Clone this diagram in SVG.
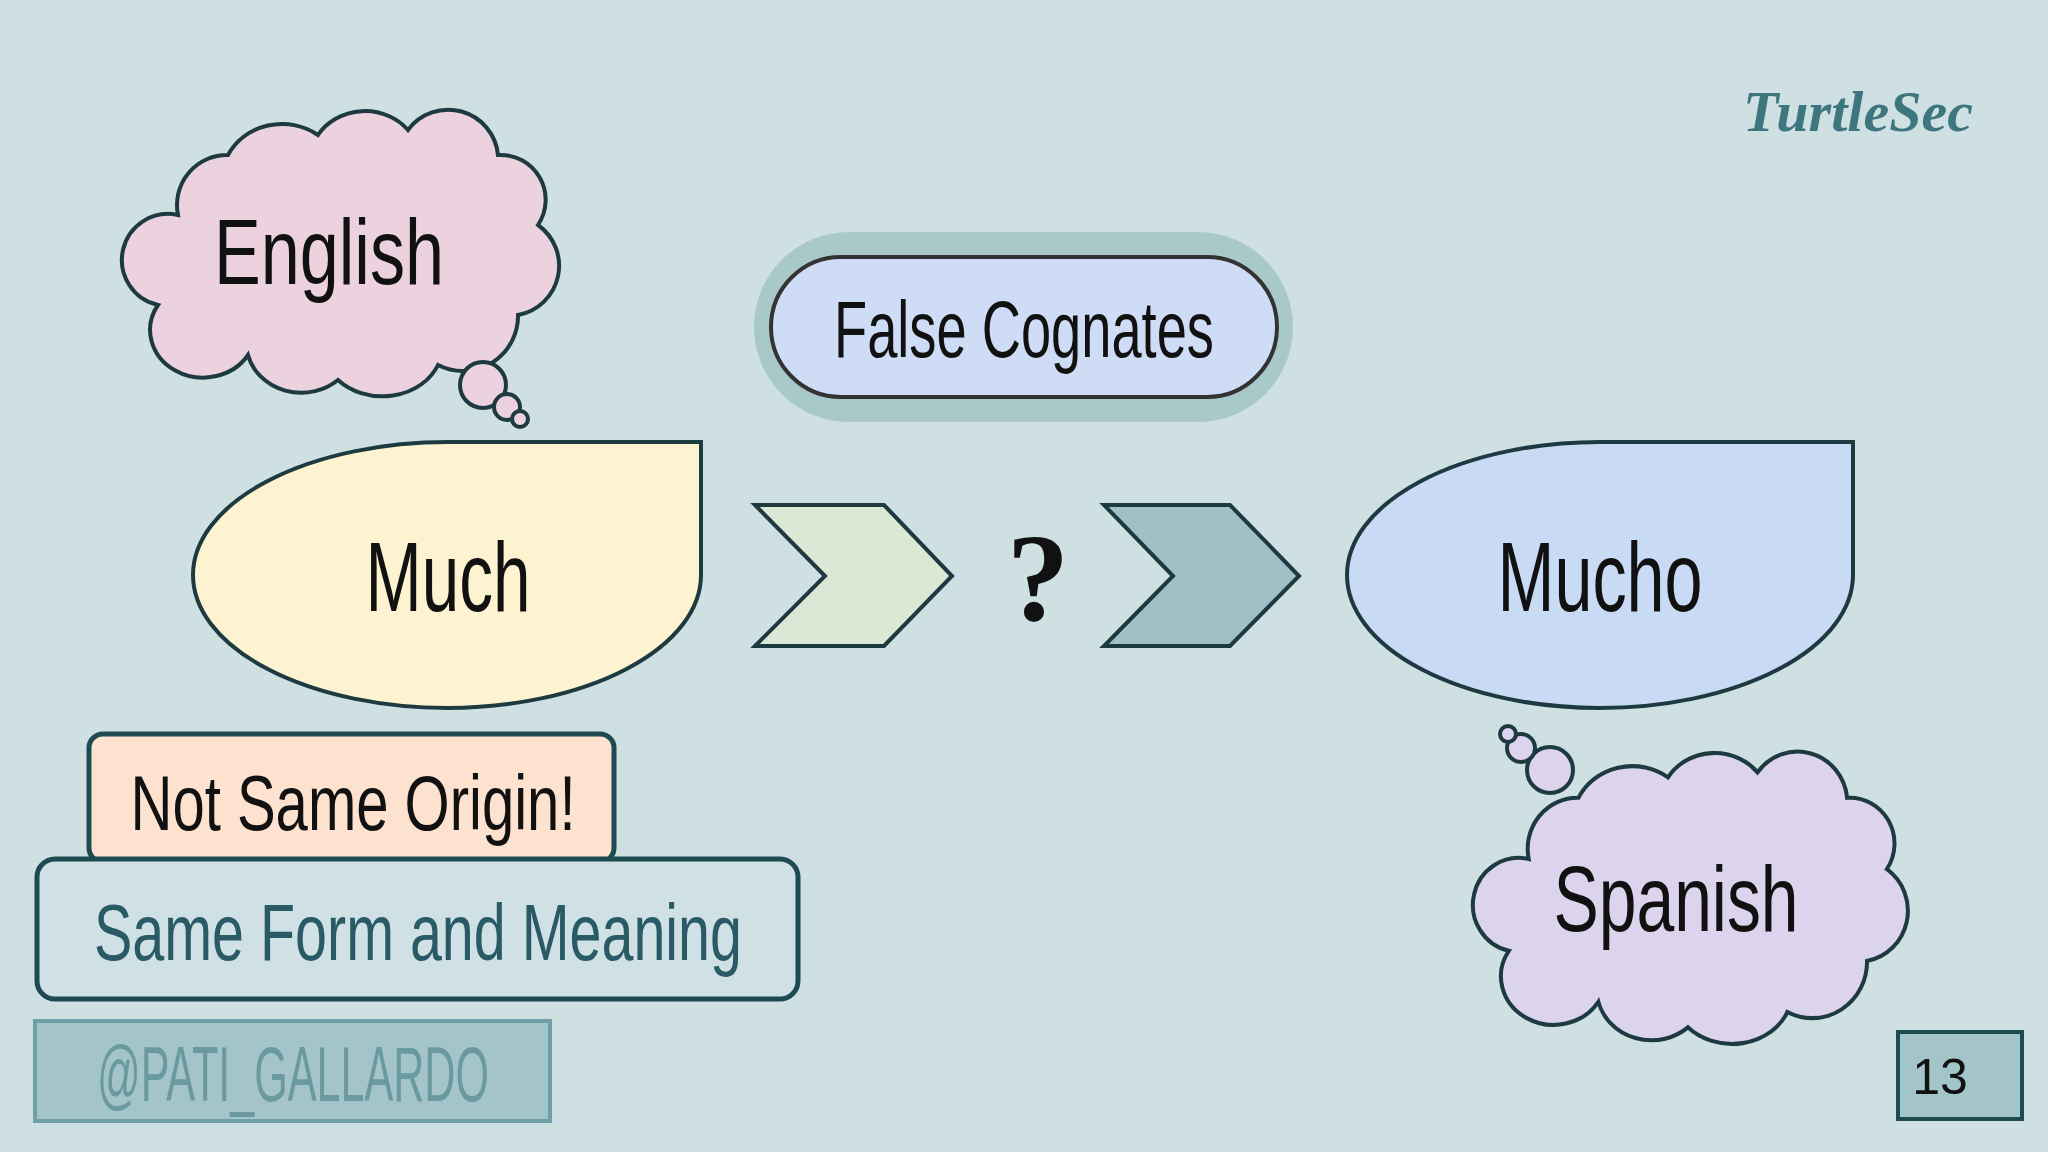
<svg xmlns="http://www.w3.org/2000/svg" width="2048" height="1152" viewBox="0 0 2048 1152">
<style>
.t{font-family:"Liberation Sans",Arial,sans-serif;text-anchor:middle;dominant-baseline:central;fill:#111}
.ln{stroke:#1d3a40;stroke-width:4}
.cl{stroke:#1d3a40;stroke-width:4}
</style>
<defs>
<path id="cloud" d="M 60,100 A 50,50 0 0 1 110,40 A 60,55 0 0 1 200,20 A 55,50 0 0 1 290,15 A 50,50 0 0 1 380,40 A 45,45 0 0 1 420,110 A 50,50 0 0 1 400,200 A 55,55 0 0 1 320,250 A 60,50 0 0 1 220,265 A 55,50 0 0 1 130,240 A 50,45 0 0 1 40,190 A 45,45 0 0 1 60,100 Z"/>
</defs>
<rect width="2048" height="1152" fill="#cfe0e3"/>
<text x="1858" y="111" font-family="Liberation Serif,serif" font-style="italic" font-weight="bold" font-size="58" fill="#3e7680" text-anchor="middle" dominant-baseline="central">TurtleSec</text>
<g id="english">
<use href="#cloud" transform="translate(118,115)" fill="#ecd2df" class="cl"/>
<circle cx="483" cy="385" r="23" fill="#ecd2df" class="cl"/>
<circle cx="507" cy="407" r="13" fill="#ecd2df" class="cl"/>
<circle cx="520" cy="419" r="8" fill="#ecd2df" class="cl"/>
<text class="t" x="329" y="252" font-size="92" textLength="230" lengthAdjust="spacingAndGlyphs">English</text>
</g>
<g id="much">
<path d="M448,442 L701,442 L701,575 A255,133 0 0 1 448,708 A255,133 0 0 1 193,575 A255,133 0 0 1 448,442 Z" fill="#fdf3d0" class="ln"/>
<text class="t" x="448" y="577" font-size="98" textLength="165" lengthAdjust="spacingAndGlyphs">Much</text>
</g>
<g id="mucho">
<path d="M1600,442 L1853,442 L1853,575 A253,133 0 0 1 1600,708 A253,133 0 0 1 1347,575 A253,133 0 0 1 1600,442 Z" fill="#c9daf5" class="ln"/>
<text class="t" x="1600" y="577" font-size="98" textLength="205" lengthAdjust="spacingAndGlyphs">Mucho</text>
</g>
<g id="connectors">
<polygon points="755,505 884,505 952,576 884,646 755,646 825,576" fill="#dbe8d5" class="ln"/>
<polygon points="1104,505 1230,505 1299,576 1230,646 1104,646 1173,576" fill="#9fc1c6" class="ln"/>
</g>
<g id="question"><text x="1038" y="578" font-family="Liberation Serif,serif" font-weight="bold" font-size="125" text-anchor="middle" dominant-baseline="central" fill="#111">?</text></g>
<g id="false">
<rect x="754" y="232" width="539" height="190" rx="95" fill="#a9c8ca"/>
<rect x="771" y="257" width="506" height="140" rx="70" fill="#cfdcf6" stroke="#333" stroke-width="4"/>
<text class="t" x="1024" y="329" font-size="80" textLength="380" lengthAdjust="spacingAndGlyphs">False Cognates</text>
</g>
<g id="spanish">
<use href="#cloud" transform="translate(1469,757) scale(0.995,1.02)" fill="#dcd3ec" class="cl"/>
<circle cx="1550" cy="770" r="23" fill="#dcd3ec" class="cl"/>
<circle cx="1521" cy="748" r="14" fill="#dcd3ec" class="cl"/>
<circle cx="1508" cy="734" r="8" fill="#dcd3ec" class="cl"/>
<text class="t" x="1676" y="899" font-size="92" textLength="245" lengthAdjust="spacingAndGlyphs">Spanish</text>
</g>
<g id="origin">
<rect x="89" y="734" width="525" height="128" rx="14" fill="#fde3cf" stroke="#1e4a52" stroke-width="5"/>
<text class="t" x="353" y="803" font-size="78" textLength="445" lengthAdjust="spacingAndGlyphs">Not Same Origin!</text>
</g>
<g id="same">
<rect x="37" y="859" width="761" height="140" rx="18" fill="#d0e1e5" stroke="#1e4a52" stroke-width="5"/>
<text class="t" x="418" y="932" font-size="80" fill="#2a5a66" style="fill:#2a5a66" textLength="648" lengthAdjust="spacingAndGlyphs">Same Form and Meaning</text>
</g>
<g id="handle">
<rect x="35" y="1021" width="515" height="100" fill="#a3c4c8" stroke="#6fa0a8" stroke-width="4"/>
<text class="t" x="293" y="1074" font-size="78" style="fill:#6a9aa0" textLength="392" lengthAdjust="spacingAndGlyphs">@PATI_GALLARDO</text>
</g>
<g id="page">
<rect x="1898" y="1032" width="124" height="87" fill="#a3c4c8" stroke="#1e4a52" stroke-width="4"/>
<text class="t" x="1940" y="1077" font-size="50">13</text>
</g>
</svg>
